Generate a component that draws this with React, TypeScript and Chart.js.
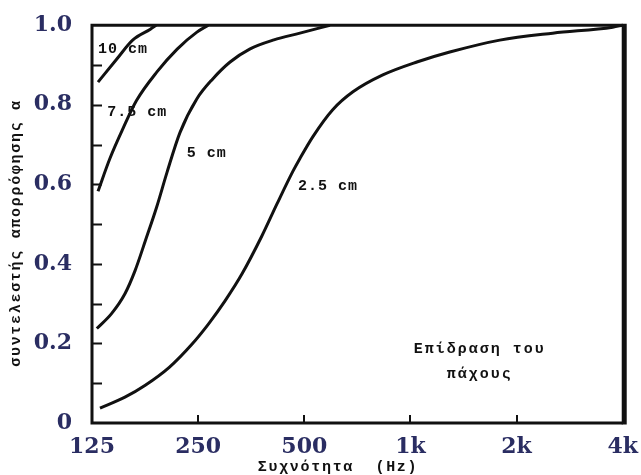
import { useEffect, useRef } from 'react';
import { Chart, registerables } from 'chart.js';

Chart.register(...registerables);

// ---- data ----
const FREQ_TICKS = [125, 250, 500, 1000, 2000, 4000];
const FREQ_TICK_LABELS = ['125', '250', '500', '1k', '2k', '4k'];
const ALPHA_MINOR_TICKS = [0.1, 0.2, 0.3, 0.4, 0.5, 0.6, 0.7, 0.8, 0.9];

const FREQ_10CM = [130, 147, 163, 183, 190];
const ALPHA_10CM = [0.857, 0.915, 0.9625, 0.99, 1.0];

const FREQ_7_5CM = [130, 140.5, 153, 167, 191, 218, 248, 267];
const ALPHA_7_5CM = [0.5825, 0.665, 0.74, 0.81, 0.8825, 0.94, 0.9825, 1.0];

const FREQ_5CM = [129, 142, 155, 165.5, 177, 191, 204, 222, 248, 275, 308, 350, 410, 486, 591];
const ALPHA_5CM = [0.2375, 0.275, 0.325, 0.3825, 0.4575, 0.545, 0.63, 0.73, 0.815, 0.865, 0.9075, 0.94, 0.963, 0.98, 1.0];

const FREQ_2_5CM = [131.7, 155, 177, 207, 240, 268, 298, 333, 379, 418, 464, 486, 529, 602, 687, 835, 1043, 1293, 1792, 2533, 3747, 4000];
const ALPHA_2_5CM = [0.0375, 0.065, 0.095, 0.14, 0.198, 0.25, 0.307, 0.375, 0.47, 0.55, 0.6325, 0.665, 0.72, 0.7875, 0.8325, 0.875, 0.9075, 0.9325, 0.9625, 0.98, 0.995, 1.0];

const CURVE_LABELS = ['10 cm', '7.5 cm', '5 cm', '2.5 cm'];
const CURVE_LABEL_FREQ = [130, 138, 232, 480];
const CURVE_LABEL_ALPHA = [0.94, 0.7825, 0.6775, 0.595];

const NOTE_LINES = ['Επίδραση του', 'πάχους'];
const NOTE_FREQ = 1563;
const NOTE_ALPHA = [0.185, 0.1225];

const X_TITLE = 'Συχνότητα  (Hz)';
const Y_TITLE = 'συντελεστής απορρόφησης α';

const SERIES = [
  { name: '10 cm', f: FREQ_10CM, a: ALPHA_10CM },
  { name: '7.5 cm', f: FREQ_7_5CM, a: ALPHA_7_5CM },
  { name: '5 cm', f: FREQ_5CM, a: ALPHA_5CM },
  { name: '2.5 cm', f: FREQ_2_5CM, a: ALPHA_2_5CM },
];

const MONO = '"Liberation Mono", "DejaVu Sans Mono", monospace';

const overlay = {
  id: 'overlay',
  afterDatasetsDraw(chart: any) {
    const { ctx, chartArea, scales } = chart;
    const { left, right, top, bottom } = chartArea;
    const x = scales.x;
    const y = scales.y;
    ctx.save();
    ctx.strokeStyle = '#111';
    ctx.lineCap = 'butt';

    // frame
    ctx.lineWidth = 3;
    ctx.beginPath();
    ctx.moveTo(left - 1.5, top);
    ctx.lineTo(right, top);
    ctx.moveTo(left, top);
    ctx.lineTo(left, bottom + 1.5);
    ctx.moveTo(left - 1.5, bottom);
    ctx.lineTo(right, bottom);
    ctx.stroke();
    ctx.lineWidth = 5;
    ctx.beginPath();
    ctx.moveTo(right + 1.5, top - 1.5);
    ctx.lineTo(right + 1.5, bottom + 1.5);
    ctx.stroke();

    // inward ticks
    ctx.lineWidth = 2;
    ctx.beginPath();
    ALPHA_MINOR_TICKS.forEach((v) => {
      const py = Math.round(y.getPixelForValue(v)) + 0.5;
      ctx.moveTo(left, py);
      ctx.lineTo(left + 10, py);
    });
    FREQ_TICKS.slice(1, -1).forEach((f) => {
      const px = Math.round(x.getPixelForValue(f));
      ctx.moveTo(px, bottom);
      ctx.lineTo(px, bottom - 8);
    });
    ctx.stroke();

    // curve labels
    ctx.fillStyle = '#111';
    ctx.font = `bold 15px ${MONO}`;
    (ctx as any).letterSpacing = '1px';
    ctx.textAlign = 'left';
    ctx.textBaseline = 'middle';
    CURVE_LABELS.forEach((t, i) => {
      ctx.fillText(t, x.getPixelForValue(CURVE_LABEL_FREQ[i]), y.getPixelForValue(CURVE_LABEL_ALPHA[i]));
    });

    (ctx as any).letterSpacing = '2px';
    ctx.textAlign = 'center';
    NOTE_LINES.forEach((t, i) => {
      ctx.fillText(t, x.getPixelForValue(NOTE_FREQ) + 1, y.getPixelForValue(NOTE_ALPHA[i]));
    });

    // axis titles
    ctx.font = `bold 15px ${MONO}`;
    (ctx as any).letterSpacing = '1.7px';
    ctx.textAlign = 'center';
    ctx.fillText(X_TITLE, 338, 467);
    ctx.save();
    ctx.translate(16, 233);
    ctx.rotate(-Math.PI / 2);
    ctx.fillText(Y_TITLE, 0, 0);
    ctx.restore();
    (ctx as any).letterSpacing = '0px';

    ctx.restore();
  },
};

export default function App() {
  const ref = useRef<HTMLCanvasElement>(null);
  useEffect(() => {
    const chart = new Chart(ref.current as HTMLCanvasElement, {
      type: 'line',
      data: {
        datasets: SERIES.map((s) => ({
          label: s.name,
          data: s.f.map((f, i) => ({ x: f, y: s.a[i] })),
          borderColor: '#111',
          borderWidth: 3,
          pointRadius: 0,
          fill: false,
          cubicInterpolationMode: 'monotone' as const,
        })),
      },
      options: {
        responsive: false,
        animation: false,
        layout: { padding: { top: 23, right: 17, bottom: 0, left: 0 } },
        plugins: { legend: { display: false }, tooltip: { enabled: false } },
        scales: {
          x: {
            type: 'logarithmic',
            min: 125,
            max: 4000,
            grid: { display: false },
            border: { display: false },
            afterBuildTicks: (s: any) => {
              s.ticks = FREQ_TICKS.map((v) => ({ value: v }));
            },
            afterFit: (s: any) => {
              s.height = 52;
            },
            ticks: {
              autoSkip: false,
              maxRotation: 0,
              padding: 3,
              color: '#2a2d62',
              font: { family: '"DejaVu Serif", serif', size: 22, weight: 'bold' },
              callback: (_v: any, i: number) => FREQ_TICK_LABELS[i],
            },
          },
          y: {
            type: 'linear',
            min: 0,
            max: 1,
            grid: { display: false },
            border: { display: false },
            afterFit: (s: any) => {
              s.width = 92;
            },
            ticks: {
              stepSize: 0.2,
              padding: 12,
              color: '#2a2d62',
              font: { family: '"DejaVu Serif", serif', size: 22, weight: 'bold' },
              callback: (v: any) => (Number(v) === 0 ? '0' : Number(v).toFixed(1)),
            },
          },
        },
      },
      plugins: [overlay],
    } as any);
    return () => chart.destroy();
  }, []);
  return (
    <div style={{ position: 'absolute', left: 0, top: 0, width: 641, height: 475, background: '#fff' }}>
      <canvas ref={ref} width={641} height={475} style={{ display: 'block' }} />
    </div>
  );
}
